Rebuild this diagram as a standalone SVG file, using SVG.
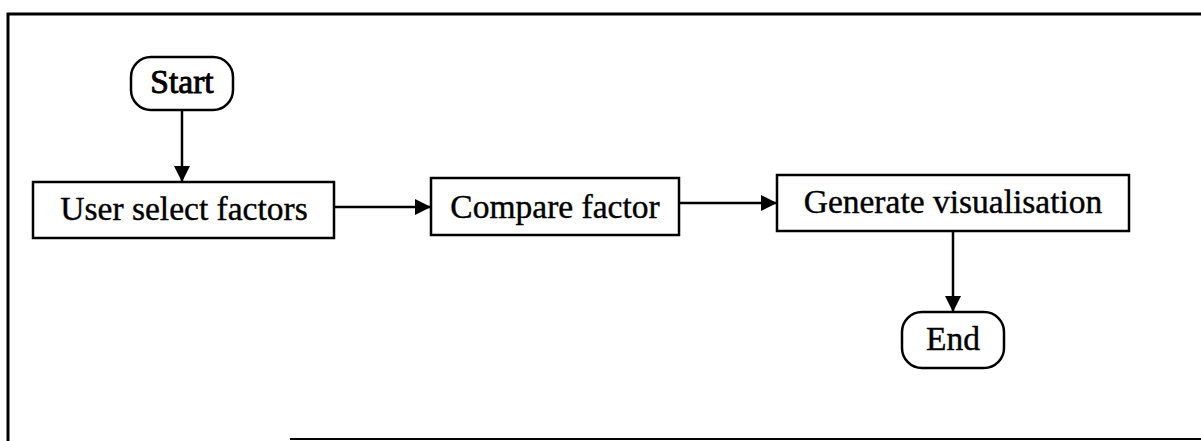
<svg xmlns="http://www.w3.org/2000/svg" width="1201" height="441" viewBox="0 0 1201 441">
  <style>
    .box { fill: #fff; stroke: #000; stroke-width: 2.5; }
    .lbl { font-family: "Liberation Serif", "Times New Roman", serif; font-size: 33.5px; fill: #000; text-anchor: middle; stroke: #000; stroke-width: 0.4; }
    .term { stroke-width: 0.9; }
    .edge { stroke: #000; stroke-width: 2.5; fill: none; }
    .frame { stroke: #000; fill: none; }
  </style>
  <defs>
    <marker id="arrow" viewBox="0 0 16 16" refX="16" refY="8" markerWidth="16" markerHeight="16" markerUnits="userSpaceOnUse" orient="auto">
      <path d="M0,0 L16,8 L0,16 Z" fill="#000"/>
    </marker>
  </defs>
  <rect width="1201" height="441" fill="#fff"/>
  <!-- outer frame: left, top and bottom edges -->
  <g id="frame">
    <path class="frame" stroke-width="3" d="M8,441 L8,14 L1201,14"/>
    <path class="frame" stroke-width="2" d="M290,439 L1201,439"/>
  </g>
  <g id="connectors">
    <path class="edge" marker-end="url(#arrow)" d="M182,110 L182,182"/>
    <path class="edge" marker-end="url(#arrow)" d="M334,207 L431,207"/>
    <path class="edge" marker-end="url(#arrow)" d="M679,203 L777,203"/>
    <path class="edge" marker-end="url(#arrow)" d="M953,231 L953,312"/>
  </g>
  <g id="start">
    <rect class="box" x="131" y="57" width="102" height="53" rx="20" ry="20"/>
    <text class="lbl term" x="182" y="93">Start</text>
  </g>
  <g id="select">
    <rect class="box" x="33" y="182" width="301" height="56"/>
    <text class="lbl" x="184" y="220">User select factors</text>
  </g>
  <g id="compare">
    <rect class="box" x="431" y="178" width="248" height="57"/>
    <text class="lbl" x="555" y="218">Compare factor</text>
  </g>
  <g id="generate">
    <rect class="box" x="777" y="175" width="352" height="56"/>
    <text class="lbl" x="953" y="213">Generate visualisation</text>
  </g>
  <g id="end">
    <rect class="box" x="902" y="312" width="102" height="56" rx="20" ry="20"/>
    <text class="lbl" x="953" y="350">End</text>
  </g>
</svg>
